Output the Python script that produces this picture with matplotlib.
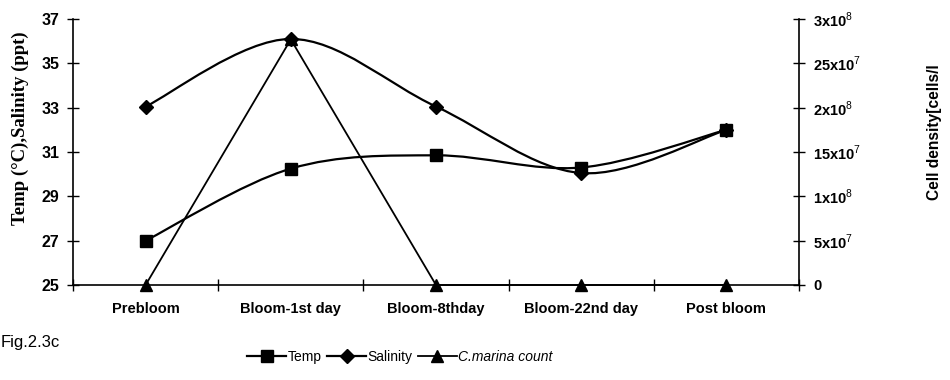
import matplotlib
matplotlib.use("Agg")
import matplotlib.pyplot as plt
from matplotlib.path import Path
from matplotlib.patches import PathPatch
from matplotlib.lines import Line2D
import numpy as np

categories = ["Prebloom", "Bloom-1st day", "Bloom-8thday", "Bloom-22nd day", "Post bloom"]
temp = [27.0, 30.25, 30.85, 30.3, 32.0]
salinity = [33.05, 36.1, 33.05, 30.05, 32.0]
count = [0, 2.77e8, 0, 0, 0]
left_ticks = [25, 27, 29, 31, 33, 35, 37]
right_ticks = [0, 5e7, 1e8, 1.5e8, 2e8, 2.5e8, 3e8]
right_labels = ["0", "5x10$^{7}$", "1x10$^{8}$", "15x10$^{7}$", "2x10$^{8}$", "25x10$^{7}$", "3x10$^{8}$"]

plt.rcParams['font.family'] = ['Liberation Sans', 'DejaVu Sans']
plt.rcParams['mathtext.fontset'] = 'custom'
plt.rcParams['mathtext.rm'] = 'Liberation Sans'

fig = plt.figure(figsize=(9.5, 3.8), dpi=100)
ax = fig.add_axes([73/950, 1-285/380, (799-73)/950, (285-19)/380])
ax2 = ax.twinx()

x = np.arange(len(categories)) + 0.5


def smooth_path(xs, ys):
    pts = list(zip(xs, ys))
    n = len(pts)
    verts = [pts[0]]
    codes = [Path.MOVETO]
    for i in range(n - 1):
        p0 = np.array(pts[max(i - 1, 0)])
        p1 = np.array(pts[i])
        p2 = np.array(pts[i + 1])
        p3 = np.array(pts[min(i + 2, n - 1)])
        c1 = p1 + (p2 - p0) / 6.0
        c2 = p2 - (p3 - p1) / 6.0
        verts += [tuple(c1), tuple(c2), tuple(p2)]
        codes += [Path.CURVE4] * 3
    return Path(verts, codes)


for ys in (temp, salinity):
    ax.add_patch(PathPatch(smooth_path(x, ys), facecolor='none', edgecolor='black', lw=1.6, zorder=3))

ax.plot(x, temp, ls='none', marker='s', ms=9, color='black', zorder=4)
ax.plot(x, salinity, ls='none', marker='D', ms=7, color='black', zorder=4)
ax2.plot(x, count, color='black', lw=1.3, marker='^', ms=9, zorder=5, clip_on=False)

ax.set_xlim(0, 5)
ax.set_ylim(25, 37)
ax2.set_ylim(0, 3e8)

ax.set_xticks(np.arange(0, 6))
ax.set_xticklabels([])
ax.set_xticks(x, minor=True)
ax.set_xticklabels(categories, minor=True, fontsize=10.5, fontweight='bold')
ax.tick_params(axis='x', which='major', direction='inout', length=8, width=1)
ax.tick_params(axis='x', which='minor', length=0, pad=12)

ax.set_yticks(left_ticks)
ax.set_yticklabels([str(t) for t in left_ticks], fontsize=11.5, fontweight='bold')
ax.tick_params(axis='y', direction='inout', length=8, width=1, pad=6)

ax2.set_yticks(right_ticks)
ax2.set_yticklabels(right_labels, fontsize=10.5, fontweight='bold')
ax2.tick_params(axis='y', direction='inout', length=8, width=1, pad=6)

for a in (ax, ax2):
    a.spines['top'].set_visible(False)
    for s in ('left', 'right', 'bottom'):
        a.spines[s].set_linewidth(1.2)
ax.spines['right'].set_visible(False)
ax2.spines['left'].set_visible(False)
ax2.spines['bottom'].set_visible(False)

fig.text(20/950, 1-128/380, "Temp (\u00b0C),Salinity (ppt)", rotation=90, ha='center', va='center',
         fontsize=13.5, fontweight='bold', family=['Liberation Serif', 'DejaVu Serif'])
fig.text(935/950, 1-132/380, "Cell density[cells/l", rotation=90, ha='center', va='center',
         fontsize=11.2, fontweight='bold')

fig.text(1/950, 1-343/380, "Fig.2.3c", ha='left', va='center', fontsize=12)

handles = [
    Line2D([], [], color='black', lw=1.6, marker='s', ms=9),
    Line2D([], [], color='black', lw=1.6, marker='D', ms=7),
    Line2D([], [], color='black', lw=1.3, marker='^', ms=9),
]
leg = fig.legend(handles, ["Temp", "Salinity", "C.marina count"], loc='center',
                 bbox_to_anchor=(400/950, 1-357/380), ncol=3, frameon=False, fontsize=10,
                 handlelength=2.8, handletextpad=0.1, columnspacing=0.4)
leg.get_texts()[2].set_fontstyle('italic')

fig.savefig("out.png", dpi=100)
